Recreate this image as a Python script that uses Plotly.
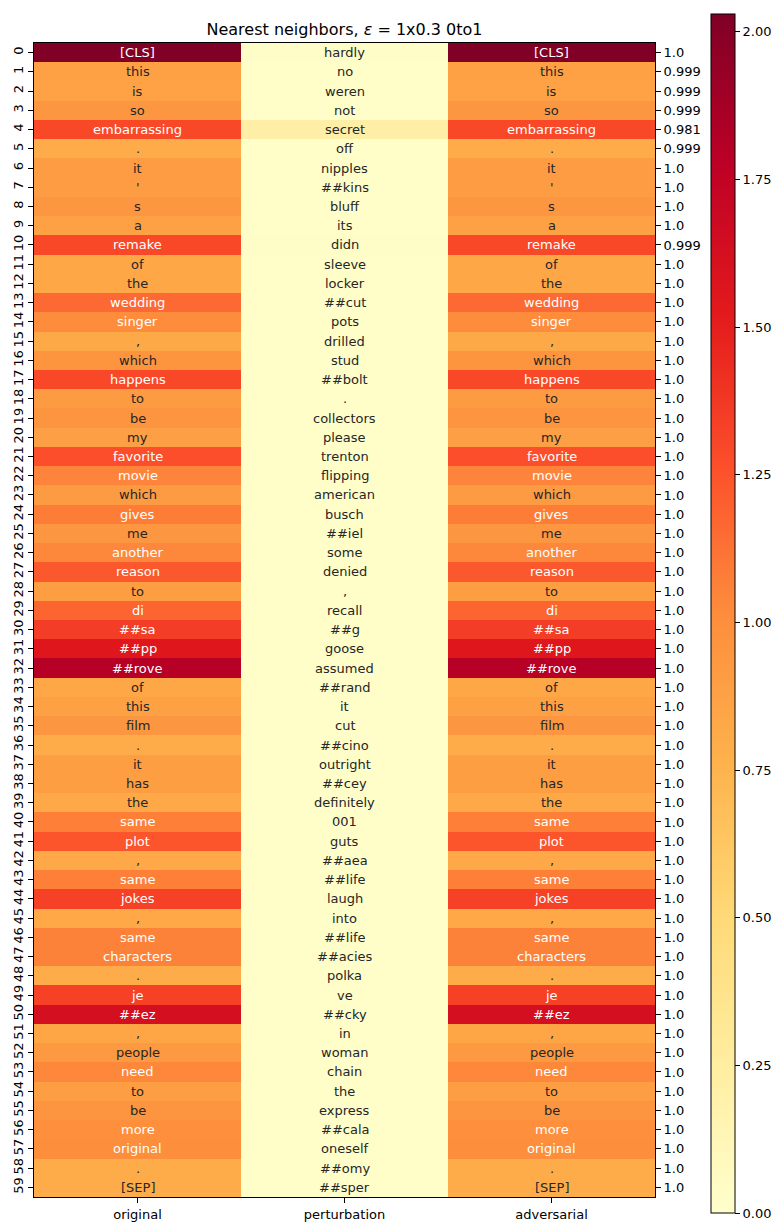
import plotly.graph_objects as go

# token columns
columns = ["original", "perturbation", "adversarial"]

original = ["[CLS]", "this", "is", "so", "embarrassing", ".", "it", "'", "s", "a",
            "remake", "of", "the", "wedding", "singer", ",", "which", "happens", "to", "be",
            "my", "favorite", "movie", "which", "gives", "me", "another", "reason", "to", "di",
            "##sa", "##pp", "##rove", "of", "this", "film", ".", "it", "has", "the",
            "same", "plot", ",", "same", "jokes", ",", "same", "characters", ".", "je",
            "##ez", ",", "people", "need", "to", "be", "more", "original", ".", "[SEP]"]

perturbation = ["hardly", "no", "weren", "not", "secret", "off", "nipples", "##kins", "bluff", "its",
                "didn", "sleeve", "locker", "##cut", "pots", "drilled", "stud", "##bolt", ".", "collectors",
                "please", "trenton", "flipping", "american", "busch", "##iel", "some", "denied", ",", "recall",
                "##g", "goose", "assumed", "##rand", "it", "cut", "##cino", "outright", "##cey", "definitely",
                "001", "guts", "##aea", "##life", "laugh", "into", "##life", "##acies", "polka", "ve",
                "##cky", "in", "woman", "chain", "the", "express", "##cala", "oneself", "##omy", "##sper"]

adversarial = list(original)

# embedding norms
norm_original = [2.03, 0.88, 0.87, 0.95, 1.30, 0.80, 0.91, 0.91, 0.95, 0.88,
                 1.30, 0.84, 0.84, 1.16, 1.02, 0.82, 0.96, 1.30, 0.92, 0.97,
                 0.89, 1.27, 1.05, 0.92, 1.08, 0.95, 1.04, 1.23, 0.90, 1.18,
                 1.35, 1.55, 1.80, 0.84, 0.88, 0.95, 0.80, 0.90, 0.90, 0.83,
                 1.07, 1.24, 0.83, 1.07, 1.33, 0.83, 1.06, 1.06, 0.80, 1.33,
                 1.62, 0.85, 0.93, 1.04, 0.90, 0.97, 1.00, 1.01, 0.80, 0.80]

norm_perturbation = [0.03, 0.02, 0.02, 0.02, 0.22, 0.02, 0.02, 0.02, 0.02, 0.02,
                     0.03, 0.02, 0.02, 0.02, 0.02, 0.02, 0.02, 0.02, 0.02, 0.02,
                     0.02, 0.02, 0.02, 0.02, 0.02, 0.02, 0.02, 0.02, 0.02, 0.02,
                     0.02, 0.02, 0.02, 0.02, 0.02, 0.02, 0.02, 0.02, 0.02, 0.02,
                     0.02, 0.02, 0.02, 0.02, 0.02, 0.02, 0.02, 0.02, 0.02, 0.02,
                     0.02, 0.02, 0.02, 0.02, 0.02, 0.02, 0.02, 0.02, 0.02, 0.02]

norm_adversarial = list(norm_original)

# cosine similarity labels on the right
similarity = ["1.0", "0.999", "0.999", "0.999", "0.981", "0.999", "1.0", "1.0", "1.0", "1.0",
              "0.999"] + ["1.0"] * 49

rows = list(range(len(original)))
cbar_ticks = [0.0, 0.25, 0.5, 0.75, 1.0, 1.25, 1.5, 1.75, 2.0]

FONT = "DejaVu Sans"

z = [[norm_original[i], norm_perturbation[i], norm_adversarial[i]] for i in rows]
tokens = [original, perturbation, adversarial]
norms = [norm_original, norm_perturbation, norm_adversarial]

fig = go.Figure()
fig.add_trace(go.Heatmap(
    z=z, x=columns, y=rows,
    colorscale="YlOrRd", zmin=0, zmax=max(norm_original),
    hoverinfo="skip",
    colorbar=dict(
        thickness=24, lenmode="pixels", len=1199,
        x=1.090, xanchor="left", xref="paper", xpad=0,
        y=0.5056, yanchor="middle", ypad=0,
        outlinewidth=1, outlinecolor="black",
        ticks="outside", ticklen=5, tickcolor="black",
        tickvals=cbar_ticks, tickformat=".2f",
        tickfont=dict(family=FONT, size=13, color="black"),
    ),
))

# invisible trace so the right-hand axis is drawn
fig.add_trace(go.Scatter(x=["original"] * len(rows), y=rows, yaxis="y2", mode="markers",
                         marker=dict(opacity=0), hoverinfo="skip", showlegend=False))

annotations = []
for c, col in enumerate(columns):
    for i in rows:
        annotations.append(dict(
            x=col, y=i, xref="x", yref="y", text=tokens[c][i], showarrow=False,
            font=dict(family=FONT, size=13,
                      color="white" if norms[c][i] >= 1.0 else "#262626"),
        ))

fig.update_layout(
    width=784, height=1232,
    margin=dict(l=34, r=129, t=43, b=35, autoexpand=False),
    plot_bgcolor="white", paper_bgcolor="white",
    font=dict(family=FONT, size=13, color="black"),
    title=dict(text="Nearest neighbors, <i>ε</i> = 1x0.3 0to1", x=0.5, xref="paper",
               y=1 - 29 / 1232, yanchor="middle", font=dict(family=FONT, size=16, color="black")),
    annotations=annotations,
    showlegend=False,
    xaxis=dict(range=[-0.5, 2.5], showline=True, mirror=True, linecolor="black", linewidth=1,
               ticks="outside", ticklen=5, tickcolor="black", showgrid=False, zeroline=False,
               automargin=False, tickfont=dict(family=FONT, size=13, color="black")),
    yaxis=dict(range=[59.5, -0.5], showline=True, mirror=True, linecolor="black", linewidth=1,
               ticks="outside", ticklen=5, tickcolor="black", showgrid=False, zeroline=False,
               tickvals=rows, ticktext=[str(r) for r in rows], tickangle=-90, automargin=False,
               tickfont=dict(family=FONT, size=13, color="black")),
    yaxis2=dict(range=[59.5, -0.5], overlaying="y", side="right", showgrid=False, zeroline=False,
                ticks="outside", ticklen=5, tickcolor="black", automargin=False,
                tickvals=rows, ticktext=similarity,
                tickfont=dict(family=FONT, size=13, color="black")),
)

# drop the default page margin so the figure sits at the window's corner
fig.write_html("out.html", config={"displayModeBar": False},
               post_script="document.body.style.margin='0';")
